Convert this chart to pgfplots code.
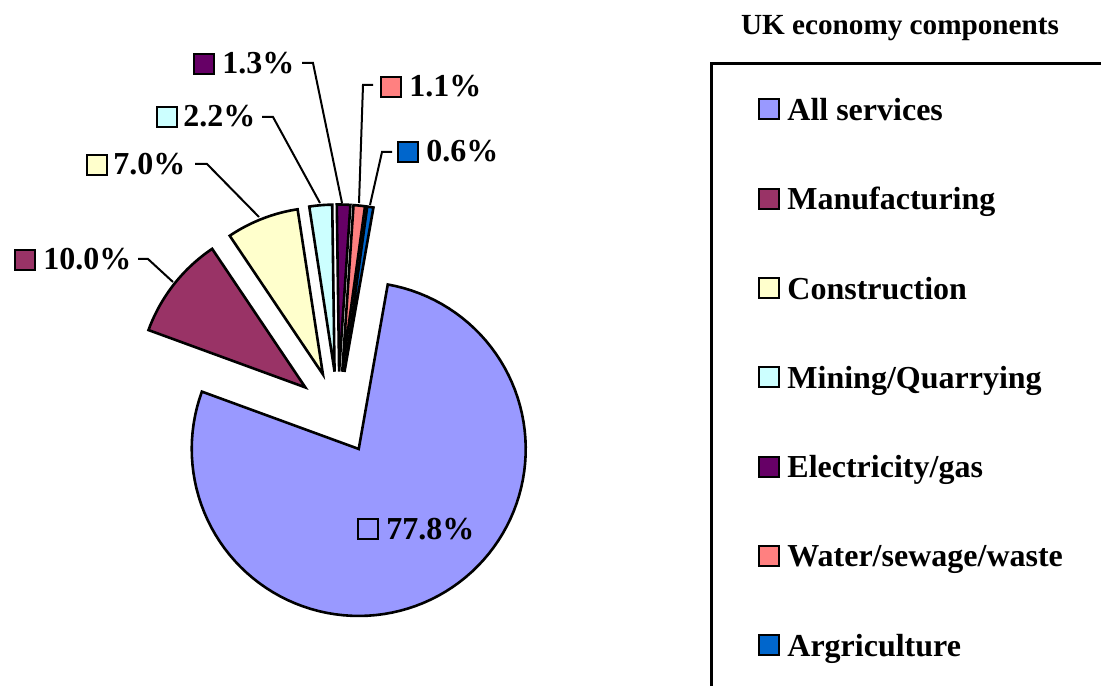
\documentclass[border=0pt]{standalone}
\usepackage{fontspec}
\setmainfont{Liberation Serif}
\usepackage{pgfplots}
\pgfplotsset{compat=1.18}
\definecolor{cServ}{HTML}{9999FF}
\definecolor{cManu}{HTML}{993366}
\definecolor{cCons}{HTML}{FFFFCC}
\definecolor{cMine}{HTML}{CCFFFF}
\definecolor{cElec}{HTML}{660066}
\definecolor{cWater}{HTML}{FF8080}
\definecolor{cAgri}{HTML}{0066CC}
% pie geometry (pixel units of the axis): centre, explosion, radius, first-slice angle
\def\pcx{338}\def\pcy{273}\def\pexp{41.5}\def\prad{167}\def\pstart{80}
% #1 colour, #2 cumulative share before this slice (%), #3 share (%), #4 legend text
\newcommand{\slice}[4]{%
  \pgfmathsetmacro{\aA}{\pstart-3.6*#2}%
  \pgfmathsetmacro{\aB}{\pstart-3.6*(#2+#3)}%
  \pgfmathsetmacro{\aM}{(\aA+\aB)/2}%
  \pgfmathsetmacro{\vx}{\pcx+\pexp*cos(\aM)}%
  \pgfmathsetmacro{\vy}{\pcy+\pexp*sin(\aM)}%
  \edef\temp{\noexpand\addplot[fill=#1, draw=black, line width=1.3pt, line join=miter,
      domain=\aB:\aA, samples=100]
      ({\vx+\prad*cos(x)},{\vy+\prad*sin(x)}) -- (axis cs:\vx,\vy) -- cycle;}%
  \temp
  \addlegendentry{#4}%
}
\begin{document}
\begin{tikzpicture}
\begin{axis}[
  scale only axis, width=550.5pt, height=343pt,
  xmin=0, xmax=1101, ymin=0, ymax=686,
  hide axis, clip=false,
  legend style={at={(0.68847,0.85714)}, anchor=north west, draw=none, fill=none,
    inner sep=0pt, row sep=29.65pt, column sep=3.5pt,
    font=\bfseries\fontsize{16}{19}\selectfont,
    nodes={inner sep=0pt, outer sep=0pt, text height=11pt, text depth=4pt},
    cells={anchor=base west}},
  legend image code/.code={\draw[#1, line width=1pt] (0.5pt,0.5pt) rectangle (10.5pt,10.5pt);},
]
\slice{cServ}{0}{77.8}{All services}
\slice{cManu}{77.8}{10.0}{Manufacturing}
\slice{cCons}{87.8}{7.0}{Construction}
\slice{cMine}{94.8}{2.2}{Mining/Quarrying}
\slice{cElec}{97.0}{1.3}{Electricity/gas}
\slice{cWater}{98.3}{1.1}{Water/sewage/waste}
\slice{cAgri}{99.4}{0.6}{Argriculture}

% leader lines
\draw[line width=1pt] (axis cs:138,427) -- (axis cs:148,427) -- (axis cs:173,404);
\draw[line width=1pt] (axis cs:195,522) -- (axis cs:207,522) -- (axis cs:259,469);
\draw[line width=1pt] (axis cs:262,569) -- (axis cs:273,569) -- (axis cs:320,483);
\draw[line width=1pt] (axis cs:302,623) -- (axis cs:313,623) -- (axis cs:342,483);
\draw[line width=1pt] (axis cs:373,601) -- (axis cs:363,601) -- (axis cs:359,483);
\draw[line width=1pt] (axis cs:392,534) -- (axis cs:382,534) -- (axis cs:370,481);

% data labels: key squares
\draw[line width=1pt] (axis cs:358,167) rectangle (axis cs:378,147);
\draw[line width=1pt, fill=cManu] (axis cs:15,436) rectangle (axis cs:35,416);
\draw[line width=1pt, fill=cCons] (axis cs:87,531) rectangle (axis cs:107,511);
\draw[line width=1pt, fill=cMine] (axis cs:157,579) rectangle (axis cs:177,559);
\draw[line width=1pt, fill=cElec] (axis cs:194,632) rectangle (axis cs:214,612);
\draw[line width=1pt, fill=cWater] (axis cs:381,609) rectangle (axis cs:401,589);
\draw[line width=1pt, fill=cAgri] (axis cs:398,544) rectangle (axis cs:418,524);
% data labels: text
\begin{scope}[every node/.style={anchor=base west, inner sep=0pt, font=\bfseries\fontsize{16}{19}\selectfont}]
\node at (axis cs:386,147) {77.8\%};
\node at (axis cs:43,416) {10.0\%};
\node at (axis cs:113,511) {7.0\%};
\node at (axis cs:183,559) {2.2\%};
\node at (axis cs:222,612) {1.3\%};
\node at (axis cs:409,589) {1.1\%};
\node at (axis cs:426,524) {0.6\%};
\end{scope}

% legend title and frame
\node[anchor=base, inner sep=0pt, font=\bfseries\fontsize{14.6}{17}\selectfont] at (axis cs:900,651) {UK economy components};
\draw[line width=1.5pt] (axis cs:711.7,0) -- (axis cs:711.7,622.7) -- (axis cs:1101,622.7);
\end{axis}
\pgfresetboundingbox
\useasboundingbox (0,0) rectangle (550.5pt,343pt);
\end{tikzpicture}
\end{document}
